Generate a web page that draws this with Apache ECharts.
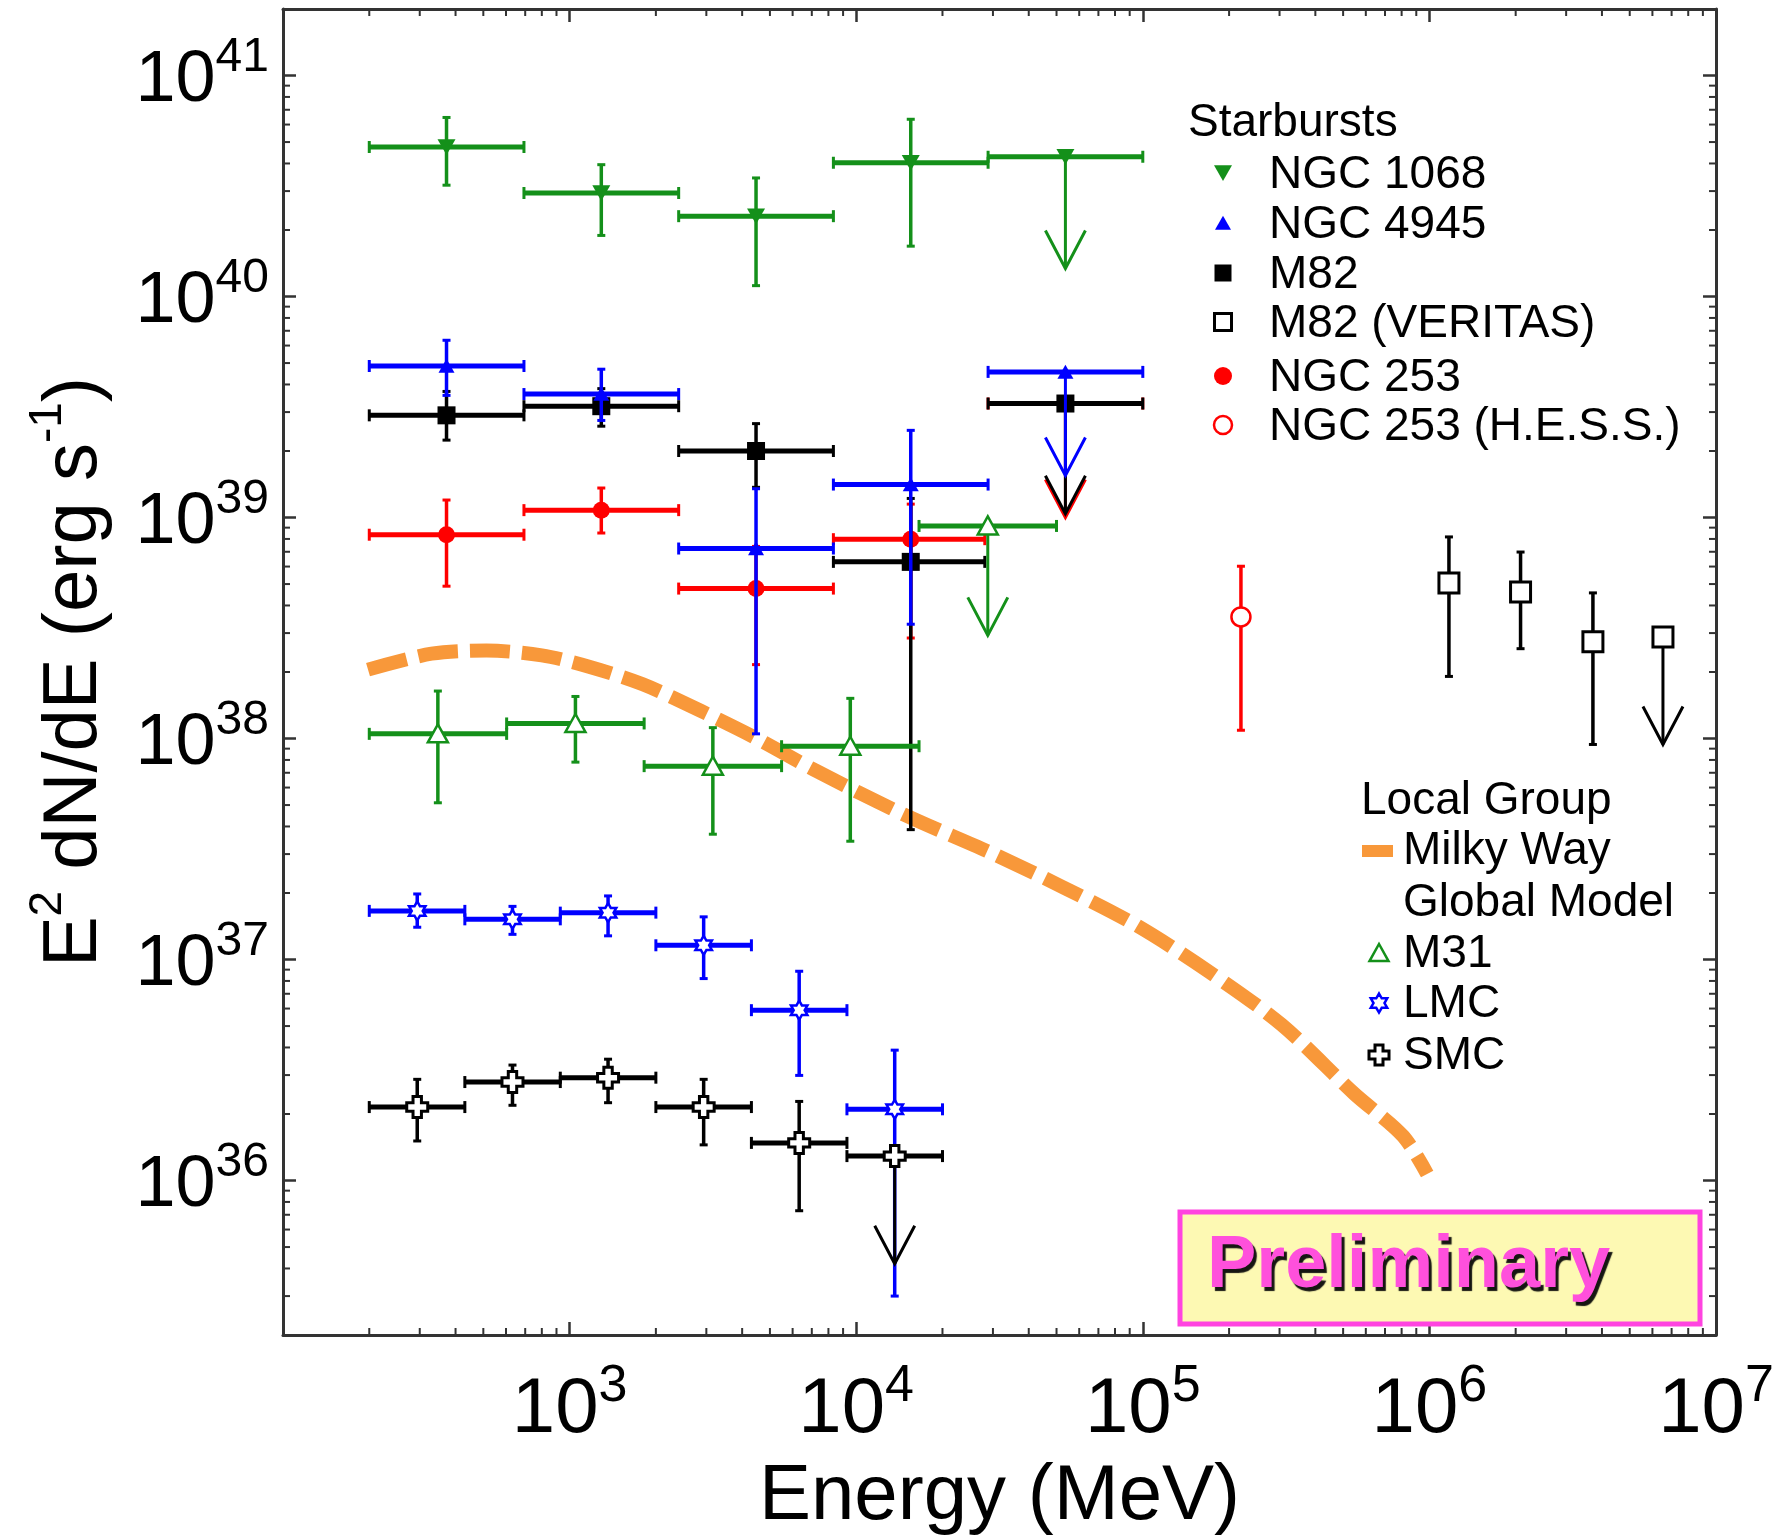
<!DOCTYPE html>
<html>
<head>
<meta charset="utf-8">
<script src="https://cdn.jsdelivr.net/npm/echarts@6/dist/echarts.min.js"></script>
<style>
html,body{margin:0;padding:0;background:#fff;}
#chart{width:1774px;height:1535px;}
</style>
</head>
<body>
<div id="chart"></div>
<script>
// ---------------- DATA ----------------
// rows: [E (MeV), E_low, E_high, E2dN/dE, lower, upper, upperLimitFlag]
// for upper limits: lower = arrow tip, upper = value
const NGC1068 = [
  [372, 200, 693, 4.75e40, 3.19e40, 6.46e40, 0],
  [1290, 693, 2402, 2.94e40, 1.89e40, 3.95e40, 0],
  [4472, 2402, 8326, 2.31e40, 1.12e40, 3.44e40, 0],
  [15500, 8326, 28854, 4.03e40, 1.69e40, 6.34e40, 0],
  [53700, 28854, 100000, 4.29e40, 1.34e40, 4.29e40, 1]
];
const NGC4945 = [
  [372, 200, 693, 4.85e39, 3.57e39, 6.34e39, 0],
  [1290, 693, 2402, 3.62e39, 2.75e39, 4.69e39, 0],
  [4472, 2402, 8326, 7.24e38, 1.05e38, 1.35e39, 0],
  [15500, 8326, 28854, 1.41e39, 3.29e38, 2.48e39, 0],
  [53700, 28854, 100000, 4.56e39, 1.55e39, 4.56e39, 1]
];
const M82 = [
  [372, 200, 693, 2.90e39, 2.24e39, 3.72e39, 0],
  [1290, 693, 2402, 3.19e39, 2.59e39, 3.83e39, 0],
  [4472, 2402, 8326, 2.00e39, 1.37e39, 2.66e39, 0],
  [15500, 8326, 28100, 6.30e38, 3.87e37, 1.22e39, 0],
  [53700, 28854, 100000, 3.28e39, 1.04e39, 3.28e39, 1]
];
const NGC253 = [
  [372, 200, 693, 8.36e38, 4.89e38, 1.20e39, 0],
  [1290, 693, 2402, 1.08e39, 8.51e38, 1.36e39, 0],
  [4472, 2402, 8326, 4.77e38, 2.16e38, 7.40e38, 0],
  [15500, 8326, 28100, 7.98e38, 2.85e38, 1.15e39, 0],
  [53700, 28854, 100000, 3.28e39, 1.00e39, 3.28e39, 1]
];
const NGC253_HESS = [
  [2.2e5, 2.2e5, 2.2e5, 3.55e38, 1.09e38, 6.02e38, 0]
];
const M82_VERITAS = [
  [1.17e6, 1.17e6, 1.17e6, 5.06e38, 1.91e38, 8.17e38, 0],
  [2.08e6, 2.08e6, 2.08e6, 4.60e38, 2.55e38, 6.98e38, 0],
  [3.72e6, 3.72e6, 3.72e6, 2.74e38, 9.40e37, 4.56e38, 0],
  [6.53e6, 6.53e6, 6.53e6, 2.88e38, 9.40e37, 2.88e38, 1]
];
const M31 = [
  [347, 200, 603, 1.05e38, 5.12e37, 1.64e38, 0],
  [1048, 603, 1820, 1.17e38, 7.82e37, 1.55e38, 0],
  [3161, 1820, 5491, 7.50e37, 3.69e37, 1.12e38, 0],
  [9537, 5491, 16566, 9.23e37, 3.43e37, 1.52e38, 0],
  [28782, 16566, 50000, 9.16e38, 2.93e38, 9.16e38, 1]
];
const LMC = [
  [294, 200, 431, 1.66e37, 1.40e37, 1.98e37, 0],
  [632, 431, 928, 1.52e37, 1.30e37, 1.74e37, 0],
  [1362, 928, 2000, 1.63e37, 1.28e37, 1.94e37, 0],
  [2936, 2000, 4309, 1.16e37, 8.20e36, 1.56e37, 0],
  [6325, 4309, 9283, 5.90e36, 2.99e36, 8.85e36, 0],
  [13626, 9283, 20000, 2.10e36, 3.00e35, 3.89e36, 0]
];
const SMC = [
  [294, 200, 431, 2.15e36, 1.51e36, 2.87e36, 0],
  [632, 431, 928, 2.79e36, 2.19e36, 3.33e36, 0],
  [1362, 928, 2000, 2.92e36, 2.25e36, 3.54e36, 0],
  [2936, 2000, 4309, 2.15e36, 1.45e36, 2.87e36, 0],
  [6325, 4309, 9283, 1.48e36, 7.30e35, 2.28e36, 0],
  [13626, 9283, 20000, 1.29e36, 4.20e35, 1.29e36, 1]
];
// Milky Way global model curve
const MW_E = [198, 330, 513, 800, 1161, 1800, 2884, 4500, 7160, 14830, 29520, 52840, 94850, 170200, 305600, 547000, 809000, 982000];
const MW_F = [2.05e38, 2.42e38, 2.50e38, 2.38e38, 2.12e38, 1.76e38, 1.33e38, 1.00e38, 7.2e37, 4.5e37, 3.04e37, 2.12e37, 1.43e37, 8.8e36, 5.06e36, 2.47e36, 1.59e36, 1.07e36];

// axes
const X_MIN = 1e2, X_MAX = 1e7;
const Y_MIN = 2e35, Y_MAX = 2e41;
const X_DECADES = [1e2, 1e3, 1e4, 1e5, 1e6];
const Y_DECADES = [1e35, 1e36, 1e37, 1e38, 1e39, 1e40, 1e41];
const MINOR_MULT = [2, 3, 4, 5, 6, 7, 8, 9];

// ---------------- STYLE ----------------
const FONT = '"Liberation Sans", Arial, Helvetica, sans-serif';
const GREEN = '#14901a', BLUE = '#0000ff', BLACK = '#000000', RED = '#ff0000', ORANGE = '#f8983a';
const AXIS_COLOR = '#333333';
const MINOR_LEN = 7;

const X_MINOR = [];
X_DECADES.forEach(d => MINOR_MULT.forEach(m => { const v = d * m; if (v > X_MIN && v < X_MAX) X_MINOR.push([v, Y_MIN]); }));
const Y_MINOR = [];
Y_DECADES.forEach(d => MINOR_MULT.forEach(m => { const v = d * m; if (v > Y_MIN * 1.01 && v < Y_MAX * 0.99) Y_MINOR.push([X_MIN, v]); }));

function marker(kind, cx, cy, s, color) {
  const h = s / 2;
  switch (kind) {
    case 'triDown':
      return { type: 'polygon', shape: { points: [[cx - h, cy - h * 0.85], [cx + h, cy - h * 0.85], [cx, cy + h * 0.9]] }, style: { fill: color } };
    case 'triUp':
      return { type: 'polygon', shape: { points: [[cx - h, cy + h * 0.85], [cx + h, cy + h * 0.85], [cx, cy - h * 0.9]] }, style: { fill: color } };
    case 'triUpOpen':
      return { type: 'polygon', shape: { points: [[cx - h, cy + h * 0.85], [cx + h, cy + h * 0.85], [cx, cy - h * 0.95]] }, style: { fill: '#ffffff', stroke: color, lineWidth: 2.5 } };
    case 'square':
      return { type: 'rect', shape: { x: cx - h, y: cy - h, width: s, height: s }, style: { fill: color } };
    case 'squareOpen':
      return { type: 'rect', shape: { x: cx - h, y: cy - h, width: s, height: s }, style: { fill: '#ffffff', stroke: color, lineWidth: 3 } };
    case 'circle':
      return { type: 'circle', shape: { cx: cx, cy: cy, r: h }, style: { fill: color } };
    case 'circleOpen':
      return { type: 'circle', shape: { cx: cx, cy: cy, r: h }, style: { fill: '#ffffff', stroke: color, lineWidth: 2.5 } };
    case 'starOpen': {
      const pts = [];
      for (let i = 0; i < 12; i++) {
        const a = (-90 + 30 * i) * Math.PI / 180;
        const r = i % 2 === 0 ? h : h / Math.sqrt(3);
        pts.push([cx + r * Math.cos(a), cy + r * Math.sin(a)]);
      }
      return { type: 'polygon', shape: { points: pts }, style: { fill: '#ffffff', stroke: color, lineWidth: 2.5 } };
    }
    case 'crossOpen': {
      const w = s * 0.2, L = h;
      const pts = [[cx - w, cy - L], [cx + w, cy - L], [cx + w, cy - w], [cx + L, cy - w], [cx + L, cy + w], [cx + w, cy + w],
                   [cx + w, cy + L], [cx - w, cy + L], [cx - w, cy + w], [cx - L, cy + w], [cx - L, cy - w], [cx - w, cy - w]];
      return { type: 'polygon', shape: { points: pts }, style: { fill: '#ffffff', stroke: color, lineWidth: 3 } };
    }
  }
}

function errorBarSeries(name, rows, st, z) {
  return {
    type: 'custom', name: name, z: z, clip: true, silent: true,
    xAxisIndex: 0, yAxisIndex: 0,
    data: rows,
    encode: { x: [0, 1, 2], y: [3, 4, 5] },
    renderItem: function (params, api) {
      const E = api.value(0), Elo = api.value(1), Ehi = api.value(2);
      const F = api.value(3), Flo = api.value(4), Fhi = api.value(5), ul = api.value(6);
      const c = api.coord([E, F]);
      const kids = [];
      const ln = (x1, y1, x2, y2, w) => ({ type: 'line', shape: { x1: x1, y1: y1, x2: x2, y2: y2 }, style: { stroke: st.color, lineWidth: w, lineCap: 'butt' } });
      if (Ehi > Elo) {
        const xa = api.coord([Elo, F])[0], xb = api.coord([Ehi, F])[0];
        kids.push(ln(xa, c[1], xb, c[1], st.hw));
        kids.push(ln(xa, c[1] - 6, xa, c[1] + 6, 3));
        kids.push(ln(xb, c[1] - 6, xb, c[1] + 6, 3));
      }
      if (ul) {
        const yt = api.coord([E, Flo])[1];
        kids.push(ln(c[0], c[1], c[0], yt, 3));
        kids.push({ type: 'polyline', shape: { points: [[c[0] - 20, yt - 38], [c[0], yt], [c[0] + 20, yt - 38]] }, style: { stroke: st.color, lineWidth: 3, fill: null } });
      } else {
        const yl = api.coord([E, Flo])[1], yh = api.coord([E, Fhi])[1];
        kids.push(ln(c[0], yl, c[0], yh, st.vw));
        kids.push(ln(c[0] - 4, yl, c[0] + 4, yl, 3));
        kids.push(ln(c[0] - 4, yh, c[0] + 4, yh, 3));
      }
      kids.push(marker(st.marker, c[0], c[1], st.size, st.color));
      return { type: 'group', children: kids };
    }
  };
}

function powLabel(v) {
  const e = Math.log10(v);
  const r = Math.round(e);
  if (Math.abs(e - r) > 1e-6) return '';
  return '{b|10}{s|' + r + '}';
}

const axisLine = { show: true, onZero: false, lineStyle: { color: AXIS_COLOR, width: 3 } };
const majorTick = { show: true, inside: true, length: 13, lineStyle: { color: AXIS_COLOR, width: 2.5 } };

const xLabelRich = {
  b: { fontSize: 78, fontFamily: FONT, color: '#000', lineHeight: 88, verticalAlign: 'bottom' },
  s: { fontSize: 52, fontFamily: FONT, color: '#000', lineHeight: 52, verticalAlign: 'top' }
};
const yLabelRich = {
  b: { fontSize: 72, fontFamily: FONT, color: '#000', lineHeight: 84, verticalAlign: 'bottom' },
  s: { fontSize: 48, fontFamily: FONT, color: '#000', lineHeight: 48, verticalAlign: 'top' }
};

// legend
const LEG_SB = [
  ['NGC 1068', 'triDown', GREEN, 18, 173],
  ['NGC 4945', 'triUp', BLUE, 16, 223],
  ['M82', 'square', BLACK, 17, 273],
  ['M82 (VERITAS)', 'squareOpen', BLACK, 17, 322],
  ['NGC 253', 'circle', RED, 18, 376],
  ['NGC 253 (H.E.S.S.)', 'circleOpen', RED, 18, 425]
];
const LEG_LG = [
  ['M31', 'triUpOpen', GREEN, 19, 953],
  ['LMC', 'starOpen', BLUE, 19, 1003],
  ['SMC', 'crossOpen', BLACK, 20, 1055]
];
const LEG_FONT = '46px ' + FONT;
function txt(t, x, y, font, fill) {
  return { type: 'text', x: x, y: y, silent: true, z: 100,
    style: { text: t, font: font || LEG_FONT, fill: fill || '#000', verticalAlign: 'middle', textVerticalAlign: 'middle', align: 'left' } };
}
const graphics = [];
graphics.push(txt('Starbursts', 1188, 123));
LEG_SB.forEach(r => { const m = marker(r[1], 1223, r[4], r[3], r[2]); m.z = 100; graphics.push(m); graphics.push(txt(r[0], 1269, r[4] + 2)); });
graphics.push(txt('Local Group', 1361, 801));
graphics.push({ type: 'rect', z: 100, shape: { x: 1362, y: 845, width: 31, height: 12 }, style: { fill: ORANGE } });
graphics.push(txt('Milky Way', 1403, 851));
graphics.push(txt('Global Model', 1403, 903));
LEG_LG.forEach(r => { const m = marker(r[1], 1379, r[4], r[3], r[2]); m.z = 100; graphics.push(m); graphics.push(txt(r[0], 1403, r[4] + 1)); });
// Preliminary stamp
graphics.push({ type: 'rect', z: 90, shape: { x: 1180, y: 1212, width: 520, height: 112 }, style: { fill: '#fdf9b3', stroke: '#ff44e0', lineWidth: 5 } });
graphics.push({ type: 'text', z: 95, x: 1207, y: 1267,
  style: { text: 'Preliminary', font: 'bold 74px ' + FONT, fill: '#ff50dc', verticalAlign: 'middle', textVerticalAlign: 'middle', align: 'left',
    textShadowColor: 'rgba(10,10,10,0.95)', textShadowOffsetX: 3, textShadowOffsetY: 4, textShadowBlur: 1 } });

const chart = echarts.init(document.getElementById('chart'), null, { renderer: 'canvas' });
const option = {
  animation: false,
  backgroundColor: '#ffffff',
  grid: { left: 283, right: 58, top: 9, bottom: 200, containLabel: false, outerBoundsMode: 'none' },
  xAxis: [
    { type: 'log', logBase: 10, min: X_MIN, max: X_MAX, position: 'bottom',
      axisLine: axisLine, axisTick: majorTick, splitLine: { show: false }, minorTick: { show: false },
      axisLabel: { formatter: powLabel, rich: xLabelRich, margin: 26, showMinLabel: false, showMaxLabel: true },
      name: 'Energy (MeV)', nameLocation: 'middle', nameGap: 120,
      nameTextStyle: { fontSize: 78, fontFamily: FONT, color: '#000', lineHeight: 84 } },
    { type: 'log', logBase: 10, min: X_MIN, max: X_MAX, position: 'top',
      axisLine: axisLine, axisTick: majorTick, splitLine: { show: false }, axisLabel: { show: false } }
  ],
  yAxis: [
    { type: 'log', logBase: 10, min: Y_MIN, max: Y_MAX, position: 'left',
      axisLine: axisLine, axisTick: majorTick, splitLine: { show: false }, minorTick: { show: false },
      axisLabel: { formatter: powLabel, rich: yLabelRich, margin: 14, showMinLabel: false, showMaxLabel: false },
      name: '{a|E}{s|2}{a| dN/dE (erg s}{s|-1}{a|)}', nameLocation: 'middle', nameGap: 170,
      nameTextStyle: { rich: {
        a: { fontSize: 76, fontFamily: FONT, color: '#000', lineHeight: 88, verticalAlign: 'bottom' },
        s: { fontSize: 46, fontFamily: FONT, color: '#000', lineHeight: 46, verticalAlign: 'top' } } } },
    { type: 'log', logBase: 10, min: Y_MIN, max: Y_MAX, position: 'right',
      axisLine: axisLine, axisTick: majorTick, splitLine: { show: false }, axisLabel: { show: false } }
  ],
  graphic: graphics,
  series: [
    { type: 'custom', name: 'x minor ticks', silent: true, z: 1, clip: false, xAxisIndex: 0, yAxisIndex: 0,
      data: X_MINOR, encode: { x: 0, y: 1 },
      renderItem: function (params, api) {
        const cs = params.coordSys;
        const x = api.coord([api.value(0), Y_MIN])[0];
        return { type: 'group', children: [
          { type: 'line', shape: { x1: x, y1: cs.y + cs.height, x2: x, y2: cs.y + cs.height - MINOR_LEN }, style: { stroke: AXIS_COLOR, lineWidth: 2 } },
          { type: 'line', shape: { x1: x, y1: cs.y, x2: x, y2: cs.y + MINOR_LEN }, style: { stroke: AXIS_COLOR, lineWidth: 2 } }
        ] };
      } },
    { type: 'custom', name: 'y minor ticks', silent: true, z: 1, clip: false, xAxisIndex: 0, yAxisIndex: 0,
      data: Y_MINOR, encode: { x: 0, y: 1 },
      renderItem: function (params, api) {
        const cs = params.coordSys;
        const y = api.coord([X_MIN, api.value(1)])[1];
        return { type: 'group', children: [
          { type: 'line', shape: { x1: cs.x, y1: y, x2: cs.x + MINOR_LEN, y2: y }, style: { stroke: AXIS_COLOR, lineWidth: 2 } },
          { type: 'line', shape: { x1: cs.x + cs.width, y1: y, x2: cs.x + cs.width - MINOR_LEN, y2: y }, style: { stroke: AXIS_COLOR, lineWidth: 2 } }
        ] };
      } },
    { type: 'line', name: 'Milky Way', z: 2, xAxisIndex: 0, yAxisIndex: 0,
      data: MW_E.map((e, i) => [e, MW_F[i]]),
      smooth: 0.3, showSymbol: false, symbol: 'none', silent: true,
      lineStyle: { color: ORANGE, width: 14, type: [40, 12], cap: 'butt' } },
    errorBarSeries('NGC 253', NGC253, { color: RED, marker: 'circle', size: 17, hw: 5, vw: 3.5 }, 3),
    errorBarSeries('M82', M82, { color: BLACK, marker: 'square', size: 18, hw: 5, vw: 3.5 }, 4),
    errorBarSeries('NGC 4945', NGC4945, { color: BLUE, marker: 'triUp', size: 16, hw: 5, vw: 3.5 }, 5),
    errorBarSeries('NGC 1068', NGC1068, { color: GREEN, marker: 'triDown', size: 18, hw: 5, vw: 3.5 }, 6),
    errorBarSeries('M31', M31, { color: GREEN, marker: 'triUpOpen', size: 20, hw: 5, vw: 3.5 }, 7),
    errorBarSeries('LMC', LMC, { color: BLUE, marker: 'starOpen', size: 19, hw: 5, vw: 3.5 }, 8),
    errorBarSeries('SMC', SMC, { color: BLACK, marker: 'crossOpen', size: 21, hw: 5, vw: 3.5 }, 9),
    errorBarSeries('NGC 253 (H.E.S.S.)', NGC253_HESS, { color: RED, marker: 'circleOpen', size: 19, hw: 4, vw: 3.5 }, 10),
    errorBarSeries('M82 (VERITAS)', M82_VERITAS, { color: BLACK, marker: 'squareOpen', size: 20, hw: 4, vw: 3.5 }, 10)
  ]
};
chart.setOption(option);
</script>
</body>
</html>
